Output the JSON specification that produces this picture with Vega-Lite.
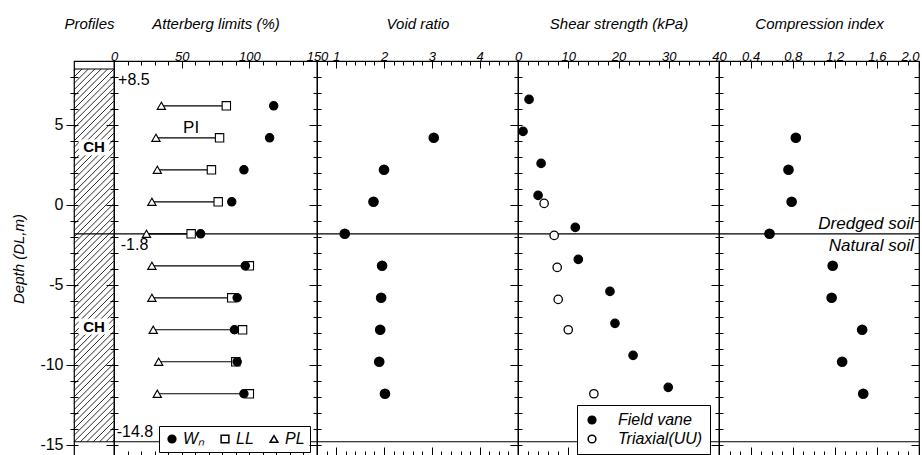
{
"$schema":"https://vega.github.io/schema/vega-lite/v6.json",
"background":"white",
"padding":{"left":10,"top":15,"right":4,"bottom":0},
"spacing":0,
"bounds":"flush",
"datasets":{
"atterberg":[
{"depth":6.2,"PL":35,"LL":83,"Wn":118},
{"depth":4.2,"PL":31,"LL":78,"Wn":115},
{"depth":2.2,"PL":32,"LL":72,"Wn":96},
{"depth":0.2,"PL":28,"LL":77,"Wn":87},
{"depth":-1.8,"PL":24,"LL":57,"Wn":64},
{"depth":-3.8,"PL":28,"LL":100,"Wn":97},
{"depth":-5.8,"PL":28,"LL":87,"Wn":91},
{"depth":-7.8,"PL":29,"LL":95,"Wn":89},
{"depth":-9.8,"PL":33,"LL":90,"Wn":91},
{"depth":-11.8,"PL":32,"LL":100,"Wn":96}],
"void":[
{"depth":4.2,"e":3.04},{"depth":2.2,"e":2.0},{"depth":0.2,"e":1.78},{"depth":-1.8,"e":1.18},
{"depth":-3.8,"e":1.96},{"depth":-5.8,"e":1.94},{"depth":-7.8,"e":1.92},{"depth":-9.8,"e":1.9},{"depth":-11.8,"e":2.02}],
"shear":[
{"depth":6.6,"su":2.2,"test":"Field vane"},{"depth":4.6,"su":1.0,"test":"Field vane"},{"depth":2.6,"su":4.6,"test":"Field vane"},{"depth":0.6,"su":4.0,"test":"Field vane"},{"depth":-1.4,"su":11.4,"test":"Field vane"},{"depth":-3.4,"su":12.0,"test":"Field vane"},{"depth":-5.4,"su":18.3,"test":"Field vane"},{"depth":-7.4,"su":19.3,"test":"Field vane"},{"depth":-9.4,"su":22.9,"test":"Field vane"},{"depth":-11.4,"su":29.9,"test":"Field vane"},
{"depth":0.1,"su":5.2,"test":"Triaxial(UU)"},{"depth":-1.9,"su":7.2,"test":"Triaxial(UU)"},{"depth":-3.9,"su":7.8,"test":"Triaxial(UU)"},{"depth":-5.9,"su":8.0,"test":"Triaxial(UU)"},{"depth":-7.8,"su":10.0,"test":"Triaxial(UU)"},{"depth":-11.8,"su":15.1,"test":"Triaxial(UU)"}],
"cc":[
{"depth":4.2,"cc":0.83},{"depth":2.2,"cc":0.76},{"depth":0.2,"cc":0.79},{"depth":-1.8,"cc":0.58},
{"depth":-3.8,"cc":1.18},{"depth":-5.8,"cc":1.17},{"depth":-7.8,"cc":1.46},{"depth":-9.8,"cc":1.27},{"depth":-11.8,"cc":1.47}],
"bounds":[{"depth":8.5},{"depth":-1.8},{"depth":-14.8}],
"depthLabels":[{"depth":8.5,"label":"+8.5","pos":3},{"depth":-1.8,"label":"-1.8","pos":5},{"depth":-14.8,"label":"-14.8","pos":2}],
"piLabel":[{"depth":4.8,"pos":57,"label":"PI"}],
"layers":[{"depth":-1.8,"cc":1.95,"upper":"Dredged soil","lower":"Natural soil"}],
"soil":[{"top":4.1,"bottom":3.1,"mid":3.6,"x1":0.12,"x2":0.88,"xc":0.5,"label":"CH"},{"top":-7.1,"bottom":-8.1,"mid":-7.6,"x1":0.12,"x2":0.88,"xc":0.5,"label":"CH"}],
"hatch":[
{"x":0.96,"y":-14.8,"x2":1,"y2":-14.7},{"x":0.8,"y":-14.8,"x2":1,"y2":-14.3},{"x":0.64,"y":-14.8,"x2":1,"y2":-13.9},{"x":0.48,"y":-14.8,"x2":1,"y2":-13.5},{"x":0.32,"y":-14.8,"x2":1,"y2":-13.1},{"x":0.16,"y":-14.8,"x2":1,"y2":-12.7},{"x":0,"y":-14.8,"x2":1,"y2":-12.3},
{"x":0,"y":-14.4,"x2":1,"y2":-11.9},{"x":0,"y":-14.0,"x2":1,"y2":-11.5},{"x":0,"y":-13.6,"x2":1,"y2":-11.1},{"x":0,"y":-13.2,"x2":1,"y2":-10.7},{"x":0,"y":-12.8,"x2":1,"y2":-10.3},{"x":0,"y":-12.4,"x2":1,"y2":-9.9},{"x":0,"y":-12.0,"x2":1,"y2":-9.5},{"x":0,"y":-11.6,"x2":1,"y2":-9.1},{"x":0,"y":-11.2,"x2":1,"y2":-8.7},{"x":0,"y":-10.8,"x2":1,"y2":-8.3},{"x":0,"y":-10.4,"x2":1,"y2":-7.9},{"x":0,"y":-10.0,"x2":1,"y2":-7.5},{"x":0,"y":-9.6,"x2":1,"y2":-7.1},{"x":0,"y":-9.2,"x2":1,"y2":-6.7},{"x":0,"y":-8.8,"x2":1,"y2":-6.3},{"x":0,"y":-8.4,"x2":1,"y2":-5.9},{"x":0,"y":-8.0,"x2":1,"y2":-5.5},{"x":0,"y":-7.6,"x2":1,"y2":-5.1},{"x":0,"y":-7.2,"x2":1,"y2":-4.7},{"x":0,"y":-6.8,"x2":1,"y2":-4.3},{"x":0,"y":-6.4,"x2":1,"y2":-3.9},{"x":0,"y":-6.0,"x2":1,"y2":-3.5},{"x":0,"y":-5.6,"x2":1,"y2":-3.1},{"x":0,"y":-5.2,"x2":1,"y2":-2.7},{"x":0,"y":-4.8,"x2":1,"y2":-2.3},{"x":0,"y":-4.4,"x2":1,"y2":-1.9},{"x":0,"y":-4.0,"x2":1,"y2":-1.5},{"x":0,"y":-3.6,"x2":1,"y2":-1.1},{"x":0,"y":-3.2,"x2":1,"y2":-0.7},{"x":0,"y":-2.8,"x2":1,"y2":-0.3},{"x":0,"y":-2.4,"x2":1,"y2":0.1},{"x":0,"y":-2.0,"x2":1,"y2":0.5},{"x":0,"y":-1.6,"x2":1,"y2":0.9},{"x":0,"y":-1.2,"x2":1,"y2":1.3},{"x":0,"y":-0.8,"x2":1,"y2":1.7},{"x":0,"y":-0.4,"x2":1,"y2":2.1},{"x":0,"y":0.0,"x2":1,"y2":2.5},{"x":0,"y":0.4,"x2":1,"y2":2.9},{"x":0,"y":0.8,"x2":1,"y2":3.3},{"x":0,"y":1.2,"x2":1,"y2":3.7},{"x":0,"y":1.6,"x2":1,"y2":4.1},{"x":0,"y":2.0,"x2":1,"y2":4.5},{"x":0,"y":2.4,"x2":1,"y2":4.9},{"x":0,"y":2.8,"x2":1,"y2":5.3},{"x":0,"y":3.2,"x2":1,"y2":5.7},{"x":0,"y":3.6,"x2":1,"y2":6.1},{"x":0,"y":4.0,"x2":1,"y2":6.5},{"x":0,"y":4.4,"x2":1,"y2":6.9},{"x":0,"y":4.8,"x2":1,"y2":7.3},{"x":0,"y":5.2,"x2":1,"y2":7.7},{"x":0,"y":5.6,"x2":1,"y2":8.1},{"x":0,"y":6.0,"x2":1,"y2":8.5},
{"x":0,"y":6.4,"x2":0.84,"y2":8.5},{"x":0,"y":6.8,"x2":0.68,"y2":8.5},{"x":0,"y":7.2,"x2":0.52,"y2":8.5},{"x":0,"y":7.6,"x2":0.36,"y2":8.5},{"x":0,"y":8.0,"x2":0.2,"y2":8.5},{"x":0,"y":8.4,"x2":0.04,"y2":8.5}]
},
"hconcat":[
{"width":40,"height":395,
 "layer":[
  {"data":{"name":"hatch"},"mark":{"type":"rule","stroke":"#111","strokeWidth":0.9},
   "encoding":{
    "x":{"field":"x","type":"quantitative","scale":{"domain":[0,1],"nice":false,"zero":false},"axis":null},
    "x2":{"field":"x2"},
    "y":{"field":"y","type":"quantitative","scale":{"domain":[-15.69,9],"nice":false,"zero":false},"axis":null},
    "y2":{"field":"y2"}}},
  {"data":{"name":"soil"},"mark":{"type":"rect","fill":"white"},
   "encoding":{"x":{"field":"x1","type":"quantitative","scale":{"domain":[0,1],"nice":false,"zero":false},"axis":null},"x2":{"field":"x2"},
    "y":{"field":"top","type":"quantitative","scale":{"domain":[-15.69,9],"nice":false,"zero":false},"axis":null},"y2":{"field":"bottom"}}},
  {"data":{"name":"bounds"},"mark":{"type":"rule","stroke":"black","strokeWidth":1.2},
   "encoding":{"y":{"field":"depth","type":"quantitative","scale":{"domain":[-15.69,9],"nice":false,"zero":false},"axis":null}}},
  {"data":{"name":"soil"},"mark":{"type":"text","fontWeight":"bold","fontSize":15,"baseline":"middle","align":"center"},
   "encoding":{
    "x":{"field":"xc","type":"quantitative","scale":{"domain":[0,1],"nice":false,"zero":false},
         "axis":{"orient":"top","title":"Profiles","titleFontSize":15,"titleFontStyle":"italic","titleFontWeight":"normal","titleY":-33,"titleX":15,"titleAlign":"center","titleBaseline":"alphabetic","ticks":false,"labels":false,"domain":false,"grid":false}},
    "y":{"field":"mid","type":"quantitative","scale":{"domain":[-15.69,9],"nice":false,"zero":false},
         "axis":{"orient":"left","values":[-15,-14,-13,-12,-11,-10,-9,-8,-7,-6,-5,-4,-3,-2,-1,0,1,2,3,4,5,6,7,8],
           "labelExpr":"datum.value % 5 === 0 ? '' + datum.value : ''","labelFontSize":16,"labelPadding":3,
           "tickSize":{"condition":{"test":"datum.value % 5 === 0","value":12},"value":8},"offset":-4,"domain":false,"grid":false,"tickWidth":1,
           "title":"Depth (DL,m)","titleFontSize":15,"titleFontStyle":"italic","titleFontWeight":"normal","titleX":-60,"titleBaseline":"middle"}},
    "text":{"field":"label"}}}
 ],
 "resolve":{"axis":{"x":"independent","y":"independent"}}},
{"width":203,"height":395,
 "layer":[
  {"data":{"name":"atterberg"},"mark":{"type":"rule","stroke":"black","strokeWidth":1.2},
   "encoding":{
    "x":{"field":"PL","type":"quantitative","scale":{"domain":[0,150],"nice":false,"zero":false},
         "axis":{"orient":"bottom","values":[0,10,20,30,40,50,60,70,80,90,100,110,120,130,140,150],"labels":false,"title":null,
           "tickSize":{"condition":{"test":"datum.value % 50 === 0","value":-9},"value":-5},"tickWidth":1,"domain":false,"grid":false}},
    "x2":{"field":"LL"},
    "y":{"field":"depth","type":"quantitative","scale":{"domain":[-15.69,9],"nice":false,"zero":false},"axis":null}}},
  {"data":{"name":"bounds"},"transform":[{"filter":"datum.depth < 0"}],"mark":{"type":"rule","stroke":"black","strokeWidth":1.2},
   "encoding":{"y":{"field":"depth","type":"quantitative","scale":{"domain":[-15.69,9],"nice":false,"zero":false},"axis":null}}},
  {"data":{"name":"depthLabels"},"transform":[{"filter":"datum.depth > -14"}],"mark":{"type":"text","fontSize":16,"align":"left","baseline":"top","dy":3},
   "encoding":{"x":{"field":"pos","type":"quantitative","scale":{"domain":[0,150],"nice":false,"zero":false},"axis":null},
    "y":{"field":"depth","type":"quantitative","scale":{"domain":[-15.69,9],"nice":false,"zero":false},"axis":null},"text":{"field":"label"}}},
  {"data":{"name":"depthLabels"},"transform":[{"filter":"datum.depth < -14"}],"mark":{"type":"text","fontSize":16,"align":"left","baseline":"bottom","dy":-2},
   "encoding":{"x":{"field":"pos","type":"quantitative","scale":{"domain":[0,150],"nice":false,"zero":false},"axis":null},
    "y":{"field":"depth","type":"quantitative","scale":{"domain":[-15.69,9],"nice":false,"zero":false},"axis":null},"text":{"field":"label"}}},
  {"data":{"name":"piLabel"},"mark":{"type":"text","fontSize":17,"align":"center","baseline":"middle"},
   "encoding":{"x":{"field":"pos","type":"quantitative","scale":{"domain":[0,150],"nice":false,"zero":false},"axis":null},
    "y":{"field":"depth","type":"quantitative","scale":{"domain":[-15.69,9],"nice":false,"zero":false},"axis":null},"text":{"field":"label"}}},
  {"data":{"name":"atterberg"},"transform":[{"fold":["PL","LL","Wn"],"as":["var","value"]}],
   "mark":{"type":"point","stroke":"black","strokeWidth":1.1,"size":70,"opacity":1,"fillOpacity":1},
   "encoding":{
    "x":{"field":"value","type":"quantitative","scale":{"domain":[0,150],"nice":false,"zero":false},
         "axis":{"orient":"top","title":"Atterberg limits (%)","titleFontSize":15,"titleFontStyle":"italic","titleFontWeight":"normal","titleY":-33,"titleBaseline":"alphabetic",
           "values":[0,10,20,30,40,50,60,70,80,90,100,110,120,130,140,150],"labelExpr":"datum.value % 50 === 0 ? datum.label : ''",
           "tickSize":{"condition":{"test":"datum.value % 50 === 0","value":-7},"value":-4},"tickWidth":1,"labelFontSize":13,"labelFontStyle":"italic","labelPadding":5,"labelFlush":false,"labelOverlap":false,"domain":false,"grid":false}},
    "y":{"field":"depth","type":"quantitative","scale":{"domain":[-15.69,9],"nice":false,"zero":false},
         "axis":{"orient":"left","values":[-15,-14,-13,-12,-11,-10,-9,-8,-7,-6,-5,-4,-3,-2,-1,0,1,2,3,4,5,6,7,8],"labels":false,"title":null,
           "tickSize":{"condition":{"test":"datum.value % 5 === 0","value":12},"value":8},"offset":-4,"domain":false,"grid":false,"tickWidth":1}},
    "shape":{"field":"var","type":"nominal","scale":{"domain":["Wn","LL","PL"],"range":["circle","square","triangle-up"]},
      "legend":{"orient":"none","legendX":45,"legendY":365,"direction":"horizontal","title":null,"labelExpr":"datum.label === 'Wn' ? 'Wₙ' : datum.label","labelFontSize":16,"labelFontStyle":"italic","symbolSize":60,"columnPadding":12,"padding":5,"fillColor":"white","strokeColor":"black","labelOffset":3,
        "encode":{"symbols":{"update":{"stroke":{"value":"black"},"strokeWidth":{"value":1.2}}}}}},
    "fill":{"field":"var","type":"nominal","scale":{"domain":["Wn","LL","PL"],"range":["black","white","white"]},
      "legend":{"orient":"none","legendX":45,"legendY":365,"direction":"horizontal","title":null,"labelExpr":"datum.label === 'Wn' ? 'Wₙ' : datum.label","labelFontSize":16,"labelFontStyle":"italic","symbolSize":60,"columnPadding":12,"padding":5,"fillColor":"white","strokeColor":"black","labelOffset":3,
        "encode":{"symbols":{"update":{"stroke":{"value":"black"},"strokeWidth":{"value":1.2}}}}}}}}
 ],
 "resolve":{"axis":{"x":"independent","y":"independent"}}},
{"width":201,"height":395,
 "layer":[
  {"data":{"name":"bounds"},"transform":[{"filter":"datum.depth < 0"}],"mark":{"type":"rule","stroke":"black","strokeWidth":1.2},
   "encoding":{"y":{"field":"depth","type":"quantitative","scale":{"domain":[-15.69,9],"nice":false,"zero":false},
         "axis":{"orient":"left","values":[-15,-14,-13,-12,-11,-10,-9,-8,-7,-6,-5,-4,-3,-2,-1,0,1,2,3,4,5,6,7,8],"labels":false,"title":null,
           "tickSize":{"condition":{"test":"datum.value % 5 === 0","value":12},"value":8},"offset":-4,"domain":false,"grid":false,"tickWidth":1}}}},
  {"data":{"name":"void"},"mark":{"type":"point","opacity":0},
   "encoding":{
    "x":{"field":"e","type":"quantitative","scale":{"domain":[0.6,4.8],"nice":false,"zero":false},
         "axis":{"orient":"bottom","values":[0.6,0.8,1,1.2,1.4,1.6,1.8,2,2.2,2.4,2.6,2.8,3,3.2,3.4,3.6,3.8,4,4.2,4.4,4.6,4.8],"labels":false,"title":null,
           "tickSize":{"condition":{"test":"datum.value % 1 === 0","value":-9},"value":-5},"tickWidth":1,"domain":false,"grid":false}},
    "y":{"field":"depth","type":"quantitative","scale":{"domain":[-15.69,9],"nice":false,"zero":false},"axis":null}}},
  {"data":{"name":"void"},"mark":{"type":"point","filled":true,"fill":"black","stroke":"black","size":75,"opacity":1},
   "encoding":{
    "x":{"field":"e","type":"quantitative","scale":{"domain":[0.6,4.8],"nice":false,"zero":false},
         "axis":{"orient":"top","title":"Void ratio","titleFontSize":15,"titleFontStyle":"italic","titleFontWeight":"normal","titleY":-33,"titleBaseline":"alphabetic",
           "values":[0.6,0.8,1,1.2,1.4,1.6,1.8,2,2.2,2.4,2.6,2.8,3,3.2,3.4,3.6,3.8,4,4.2,4.4,4.6,4.8],"labelExpr":"datum.value % 1 === 0 ? '' + datum.value : ''",
           "tickSize":{"condition":{"test":"datum.value % 1 === 0","value":-7},"value":-4},"tickWidth":1,"labelFontSize":13,"labelFontStyle":"italic","labelPadding":5,"labelFlush":false,"labelOverlap":false,"domain":false,"grid":false}},
    "y":{"field":"depth","type":"quantitative","scale":{"domain":[-15.69,9],"nice":false,"zero":false},"axis":null}}}
 ],
 "resolve":{"axis":{"x":"independent","y":"independent"}}},
{"width":201,"height":395,
 "layer":[
  {"data":{"name":"bounds"},"transform":[{"filter":"datum.depth < 0"}],"mark":{"type":"rule","stroke":"black","strokeWidth":1.2},
   "encoding":{"y":{"field":"depth","type":"quantitative","scale":{"domain":[-15.69,9],"nice":false,"zero":false},
         "axis":{"orient":"left","values":[-15,-14,-13,-12,-11,-10,-9,-8,-7,-6,-5,-4,-3,-2,-1,0,1,2,3,4,5,6,7,8],"labels":false,"title":null,
           "tickSize":{"condition":{"test":"datum.value % 5 === 0","value":12},"value":8},"offset":-4,"domain":false,"grid":false,"tickWidth":1}}}},
  {"data":{"name":"shear"},"mark":{"type":"point","opacity":0},
   "encoding":{
    "x":{"field":"su","type":"quantitative","scale":{"domain":[0,40],"nice":false,"zero":false},
         "axis":{"orient":"bottom","values":[0,2,4,6,8,10,12,14,16,18,20,22,24,26,28,30,32,34,36,38,40],"labels":false,"title":null,
           "tickSize":{"condition":{"test":"datum.value % 10 === 0","value":-9},"value":-5},"tickWidth":1,"domain":false,"grid":false}},
    "y":{"field":"depth","type":"quantitative","scale":{"domain":[-15.69,9],"nice":false,"zero":false},"axis":null}}},
  {"data":{"name":"shear"},"mark":{"type":"point","stroke":"black","strokeWidth":1.3,"size":70,"opacity":1,"fillOpacity":1},
   "encoding":{
    "x":{"field":"su","type":"quantitative","scale":{"domain":[0,40],"nice":false,"zero":false},
         "axis":{"orient":"top","title":"Shear strength (kPa)","titleFontSize":15,"titleFontStyle":"italic","titleFontWeight":"normal","titleY":-33,"titleBaseline":"alphabetic",
           "values":[0,2,4,6,8,10,12,14,16,18,20,22,24,26,28,30,32,34,36,38,40],"labelExpr":"datum.value % 10 === 0 ? datum.label : ''",
           "tickSize":{"condition":{"test":"datum.value % 10 === 0","value":-7},"value":-4},"tickWidth":1,"labelFontSize":13,"labelFontStyle":"italic","labelPadding":5,"labelFlush":false,"labelOverlap":false,"domain":false,"grid":false}},
    "y":{"field":"depth","type":"quantitative","scale":{"domain":[-15.69,9],"nice":false,"zero":false},"axis":null},
    "fill":{"field":"test","type":"nominal","scale":{"domain":["Field vane","Triaxial(UU)"],"range":["black","white"]},
      "legend":{"orient":"none","legendX":59,"legendY":344,"direction":"vertical","title":null,"labelFontSize":16,"labelFontStyle":"italic","symbolSize":60,"symbolType":"circle","padding":7,"fillColor":"white","strokeColor":"black","labelOffset":18,"rowPadding":3,
        "encode":{"symbols":{"update":{"stroke":{"value":"black"},"strokeWidth":{"value":1.2}}}}}}}}
 ],
 "resolve":{"axis":{"x":"independent","y":"independent"}}},
{"width":200,"height":395,
 "layer":[
  {"data":{"name":"layers"},"mark":{"type":"text","fontSize":17,"fontStyle":"italic","align":"right","baseline":"alphabetic","dy":-5},
   "encoding":{"x":{"field":"cc","type":"quantitative","scale":{"domain":[0.1,2.0],"nice":false,"zero":false},
         "axis":{"orient":"bottom","values":[0.2,0.3,0.4,0.5,0.6,0.7,0.8,0.9,1.0,1.1,1.2,1.3,1.4,1.5,1.6,1.7,1.8,1.9,2.0],"labels":false,"title":null,
           "tickSize":{"condition":{"test":"indexof([0.4,0.8,1.2,1.6,2.0], datum.value) >= 0","value":-9},"value":-5},"tickWidth":1,"domain":false,"grid":false}},
    "y":{"field":"depth","type":"quantitative","scale":{"domain":[-15.69,9],"nice":false,"zero":false},"axis":null},"text":{"field":"upper"}}},
  {"data":{"name":"layers"},"mark":{"type":"text","fontSize":17,"fontStyle":"italic","align":"right","baseline":"top","dy":4},
   "encoding":{"x":{"field":"cc","type":"quantitative","scale":{"domain":[0.1,2.0],"nice":false,"zero":false},"axis":null},
    "y":{"field":"depth","type":"quantitative","scale":{"domain":[-15.69,9],"nice":false,"zero":false},"axis":null},"text":{"field":"lower"}}},
  {"data":{"name":"bounds"},"transform":[{"filter":"datum.depth < 0"}],"mark":{"type":"rule","stroke":"black","strokeWidth":1.2},
   "encoding":{"y":{"field":"depth","type":"quantitative","scale":{"domain":[-15.69,9],"nice":false,"zero":false},
         "axis":{"orient":"right","values":[-15,-14,-13,-12,-11,-10,-9,-8,-7,-6,-5,-4,-3,-2,-1,0,1,2,3,4,5,6,7,8],"labels":false,"title":null,
           "tickSize":{"condition":{"test":"datum.value % 5 === 0","value":-8},"value":-5},"domain":false,"grid":false,"tickWidth":1}}}},
  {"data":{"name":"cc"},"mark":{"type":"point","filled":true,"fill":"black","stroke":"black","size":75,"opacity":1},
   "encoding":{
    "x":{"field":"cc","type":"quantitative","scale":{"domain":[0.1,2.0],"nice":false,"zero":false},
         "axis":{"orient":"top","title":"Compression index","titleFontSize":15,"titleFontStyle":"italic","titleFontWeight":"normal","titleY":-33,"titleBaseline":"alphabetic",
           "values":[0.2,0.3,0.4,0.5,0.6,0.7,0.8,0.9,1.0,1.1,1.2,1.3,1.4,1.5,1.6,1.7,1.8,1.9,2.0],"labelExpr":"indexof([0.4,0.8,1.2,1.6,2.0], datum.value) >= 0 ? format(datum.value, '.1f') : ''",
           "tickSize":{"condition":{"test":"indexof([0.4,0.8,1.2,1.6,2.0], datum.value) >= 0","value":-7},"value":-4},"tickWidth":1,"labelFontSize":13,"labelFontStyle":"italic","labelPadding":5,"labelFlush":true,"labelOverlap":false,"domain":false,"grid":false}},
    "y":{"field":"depth","type":"quantitative","scale":{"domain":[-15.69,9],"nice":false,"zero":false},
         "axis":{"orient":"left","values":[-15,-14,-13,-12,-11,-10,-9,-8,-7,-6,-5,-4,-3,-2,-1,0,1,2,3,4,5,6,7,8],"labels":false,"title":null,
           "tickSize":{"condition":{"test":"datum.value % 5 === 0","value":12},"value":8},"offset":-4,"domain":false,"grid":false,"tickWidth":1}}}}
 ],
 "resolve":{"axis":{"x":"independent","y":"independent"}}}
],
"resolve":{"scale":{"x":"independent","y":"independent","fill":"independent","shape":"independent"},"axis":{"x":"independent","y":"independent"},"legend":{"fill":"independent","shape":"independent"}},
"config":{
 "font":"Liberation Sans",
 "view":{"stroke":"black","strokeWidth":1.2},
 "axis":{"labelFont":"Liberation Sans","titleFont":"Liberation Sans","labelColor":"black","titleColor":"black","tickColor":"black"},
 "legend":{"labelFont":"Liberation Sans","labelColor":"black"},
 "text":{"font":"Liberation Sans","color":"black"}
}
}
